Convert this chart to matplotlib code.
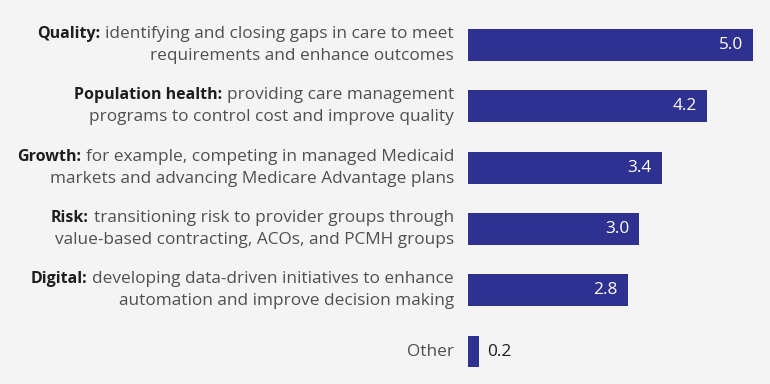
import matplotlib.pyplot as plt

bold_labels = ['Quality:', 'Population health:', 'Growth:', 'Risk:', 'Digital:', '']
line1 = ['identifying and closing gaps in care to meet',
         'providing care management',
         'for example, competing in managed Medicaid',
         'transitioning risk to provider groups through',
         'developing data-driven initiatives to enhance',
         'Other']
line2 = ['requirements and enhance outcomes',
         'programs to control cost and improve quality',
         'markets and advancing Medicare Advantage plans',
         'value-based contracting, ACOs, and PCMH groups',
         'automation and improve decision making',
         '']
values = [5.0, 4.2, 3.4, 3.0, 2.8, 0.2]

bg = '#f4f4f4'
bar_color = '#2e3190'
plt.rcParams['font.family'] = ['Open Sans', 'DejaVu Sans']

fig = plt.figure(figsize=(7.7, 3.84), dpi=100, facecolor=bg)
ax = fig.add_axes([468 / 770, 0, 302 / 770, 1])
ax.set_facecolor(bg)
pos = list(range(len(values)))
ax.barh(pos, values, height=0.52, color=bar_color)
ax.set_xlim(0, 302 / 57)
ax.set_ylim(5.53, -0.734)
ax.axis('off')

fs = 12.4
normals = []
for i in pos:
    if line2[i]:
        t = ax.annotate(line1[i], xy=(0, i), xytext=(-14, 11), textcoords='offset pixels',
                        ha='right', va='center', fontsize=fs, color='#505050')
        normals.append((i, t))
        ax.annotate(line2[i], xy=(0, i), xytext=(-14, -11), textcoords='offset pixels',
                    ha='right', va='center', fontsize=fs, color='#505050')
    else:
        ax.annotate(line1[i], xy=(0, i), xytext=(-14, 0), textcoords='offset pixels',
                    ha='right', va='center', fontsize=fs, color='#505050')

fig.canvas.draw()
r = fig.canvas.get_renderer()
for i, t in normals:
    w = t.get_window_extent(r).width
    ax.annotate(bold_labels[i], xy=(0, i), xytext=(-14 - w - 5, 11), textcoords='offset pixels',
                ha='right', va='center', fontsize=fs - 0.9, color='#1e1e1e', fontweight='bold')

for i, v in zip(pos, values):
    if v > 1:
        ax.annotate(f'{v:.1f}', xy=(v, i), xytext=(-10, 0), textcoords='offset pixels',
                    ha='right', va='center', fontsize=fs, color='white')
    else:
        ax.annotate(f'{v:.1f}', xy=(v, i), xytext=(8, 0), textcoords='offset pixels',
                    ha='left', va='center', fontsize=fs, color='#1e1e1e')

fig.savefig('out.png', dpi=100, facecolor=bg)
